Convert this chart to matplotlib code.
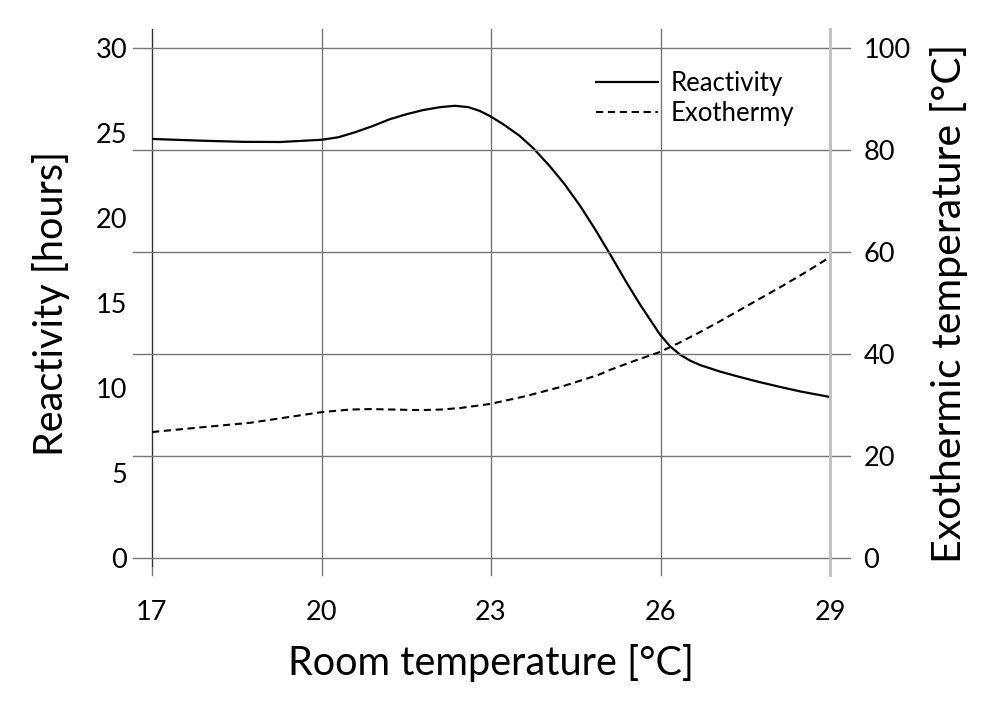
import numpy as np
import matplotlib
matplotlib.use('Agg')
from matplotlib import pyplot as plt

# room temperature [°C] vs reactivity [hours] (left axis)
react_x = [17.0, 17.85, 18.6, 19.27, 20.0, 20.3, 20.6, 20.9, 21.2, 21.5, 21.8,
           22.1, 22.36, 22.6, 22.8, 22.98, 23.2, 23.5, 23.75, 24.04, 24.3,
           24.58, 24.84, 25.11, 25.4, 25.64, 25.85, 25.99, 26.17, 26.35,
           26.53, 26.7, 27.05, 27.4, 27.75, 28.12, 28.47, 29.0]
react_y = [24.65, 24.55, 24.48, 24.47, 24.6, 24.75, 25.05, 25.4, 25.8, 26.1, 26.35,
           26.52, 26.6, 26.52, 26.3, 26.0, 25.55, 24.85, 24.1, 23.05, 22.0,
           20.7, 19.35, 17.85, 16.2, 14.9, 13.85, 13.15, 12.45, 11.95,
           11.6, 11.35, 10.97, 10.65, 10.35, 10.06, 9.8, 9.47]

# room temperature [°C] vs exothermic temperature [°C] (right axis)
exo_x = [17.0, 17.85, 18.73, 19.4, 20.0, 20.5, 20.86, 21.3, 21.74, 22.1, 22.45,
         22.98, 23.6, 24.22, 24.9, 25.11, 25.5, 25.99, 26.35, 26.7, 27.05, 27.4,
         27.75, 28.12, 28.55, 29.0]
exo_y = [24.7, 25.6, 26.5, 27.6, 28.6, 29.1, 29.2, 29.1, 29.0, 29.1, 29.4,
         30.2, 31.7, 33.5, 35.9, 36.9, 38.5, 40.4, 42.3, 44.3, 46.4, 48.6,
         50.8, 53.1, 55.9, 59.0]

x_ticks = [17, 20, 23, 26, 29]
left_ticks = [0, 5, 10, 15, 20, 25, 30]
right_ticks = [0, 20, 40, 60, 80, 100]

plt.rcParams['font.family'] = ['Lato', 'DejaVu Sans']

fig = plt.figure(figsize=(10, 7.12), dpi=100)
ax = fig.add_axes([0.152, 0.2163, 0.678, 0.7163])
ax2 = ax.twinx()

grid_col = '#767676'
for xv in x_ticks:
    ax.axvline(xv, ymin=-0.033, ymax=1.037, color=grid_col, lw=1.0, clip_on=False, zorder=1)
for yv in right_ticks:
    ax2.axhline(yv, xmin=-0.028, xmax=1.0295, color=grid_col, lw=1.0, clip_on=False, zorder=1)

ax.plot(react_x, react_y, color='black', lw=1.6, label='Reactivity', zorder=3)
ax2.plot(exo_x, exo_y, color='black', lw=1.5, linestyle=(0, (3.5, 2.2)), label='Exothermy', zorder=3)

ax.set_xlim(17, 29)
ax.set_ylim(0, 30)
ax2.set_ylim(0, 100)
ax.set_xticks(x_ticks)
ax.set_yticks(left_ticks)
ax2.set_yticks(right_ticks)

ax.tick_params(axis='x', length=0, pad=30, labelsize=19.5)
ax.tick_params(axis='y', length=0, pad=18, labelsize=19.5)
ax2.tick_params(axis='y', length=0, pad=24, labelsize=19.5)

for a in (ax, ax2):
    for s in a.spines.values():
        s.set_visible(False)
ax.spines['left'].set_visible(True)
ax.spines['left'].set_color('#303030')
ax.spines['left'].set_bounds(-0.5, 31.1)
ax2.spines['right'].set_visible(True)
ax2.spines['right'].set_color('#bfbfbf')
ax2.spines['right'].set_linewidth(2)
ax2.spines['right'].set_bounds(-3.3, 103.7)
for a in (ax, ax2):
    for s in a.spines.values():
        s.set_clip_on(False)

ax.set_xlabel('Room temperature [°C]', fontsize=28.5, labelpad=14)
ax.set_ylabel('Reactivity [hours]', fontsize=28.5, labelpad=18)
ax2.set_ylabel('Exothermic temperature [°C]', fontsize=29.5, labelpad=14)

h1, l1 = ax.get_legend_handles_labels()
h2, l2 = ax2.get_legend_handles_labels()
ax2.legend(h1 + h2, l1 + l2, loc='upper right', bbox_to_anchor=(0.97, 0.985),
           frameon=False, fontsize=18.5, handlelength=2.4, handletextpad=0.5,
           labelspacing=0.2, borderaxespad=0.2)

fig.savefig('out.png', dpi=100)
